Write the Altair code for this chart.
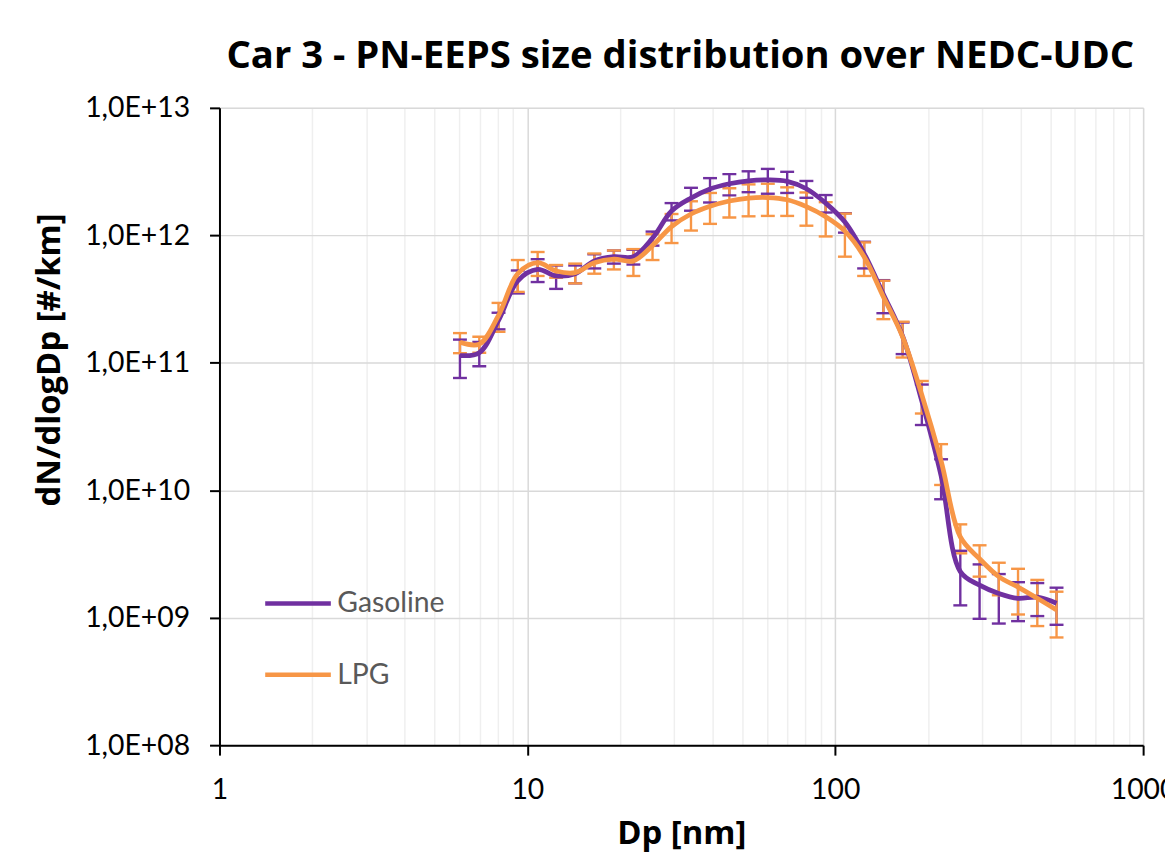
import altair as alt
import pandas as pd

# Particle diameter bins (EEPS channels, nm)
dp = [6.04, 6.98, 8.06, 9.31, 10.8, 12.4, 14.3, 16.5, 19.1, 22.1, 25.5, 29.4,
      34.0, 39.2, 45.3, 52.3, 60.4, 69.8, 80.6, 93.1, 107.5, 124.1, 143.3,
      165.5, 191.1, 220.7, 254.8, 294.3, 339.8, 392.4, 453.2, 523.3]

gasoline = [1.14e11, 1.2e11, 2.15e11, 4.4e11, 5.4e11, 4.8e11, 5.0e11, 6.3e11,
            6.8e11, 6.8e11, 9.5e11, 1.55e12, 1.96e12, 2.31e12, 2.54e12, 2.68e12,
            2.72e12, 2.65e12, 2.32e12, 1.79e12, 1.27e12, 7.2e11, 3.45e11, 1.62e11,
            5.0e10, 1.3e10, 2.3e9, 1.8e9, 1.55e9, 1.42e9, 1.45e9, 1.3e9]
gasoline_err = [0.38e11, 0.26e11, 0.32e11, 0.9e11, 1.1e11, 1.0e11, 0.8e11, 0.8e11,
                0.8e11, 0.9e11, 1.2e11, 2.4e11, 4.0e11, 5.0e11, 4.8e11, 5.0e11,
                6.0e11, 5.0e11, 3.5e11, 2.8e11, 2.2e11, 1.7e11, 1.0e11, 0.45e11,
                1.75e10, 0.45e10, 1.05e9, 0.82e9, 0.65e9, 0.48e9, 0.42e9, 0.42e9]

lpg = [1.45e11, 1.4e11, 2.35e11, 5.0e11, 6.1e11, 5.25e11, 5.1e11, 6.1e11,
       6.5e11, 6.3e11, 8.3e11, 1.17e12, 1.47e12, 1.69e12, 1.86e12, 1.96e12,
       1.98e12, 1.9e12, 1.68e12, 1.4e12, 1.08e12, 6.8e11, 3.3e11, 1.6e11,
       5.6e10, 1.7e10, 4.3e9, 2.9e9, 2.1e9, 1.74e9, 1.42e9, 1.15e9]
lpg_err = [0.26e11, 0.2e11, 0.6e11, 1.4e11, 1.3e11, 0.6e11, 0.9e11, 1.1e11,
           1.1e11, 1.5e11, 1.9e11, 3.0e11, 3.8e11, 4.6e11, 4.8e11, 5.5e11,
           5.6e11, 4.8e11, 4.9e11, 4.2e11, 4.0e11, 2.0e11, 1.1e11, 0.5e11,
           1.6e10, 0.6e10, 1.1e9, 0.8e9, 0.6e9, 0.68e9, 0.56e9, 0.45e9]

series_names = ["Gasoline", "LPG"]
series_colors = ["#7030A0", "#F79646"]

x_ticks = [m * 10 ** k for k in range(3) for m in range(1, 10)] + [1000]
y_ticks = [1e8, 1e9, 1e10, 1e11, 1e12, 1e13]

rows = []
for name, vals, errs in [("Gasoline", gasoline, gasoline_err), ("LPG", lpg, lpg_err)]:
    for d, v, e in zip(dp, vals, errs):
        rows.append({"Dp": d, "val": v, "lo": v - e, "hi": v + e, "series": name})
df = pd.DataFrame(rows)

W, H = 929, 641
FONT = "Lato"
BOLD_FONT = "Open Sans"
is_major = "datum.value==1||datum.value==10||datum.value==100||datum.value==1000"

x_axis = alt.Axis(
    values=x_ticks,
    labelExpr=f"({is_major}) ? format(datum.value, 'd') : ''",
    title="Dp [nm]",
    grid=True,
    gridColor={"condition": {"test": is_major, "value": "#d9d9d9"}, "value": "#efefef"},
    gridWidth=1.5,
    tickSize={"condition": {"test": is_major, "value": 10}, "value": 0},
    tickColor="black", tickWidth=2,
    domainColor="black", domainWidth=2,
    labelFont=FONT, labelFontSize=28.5, labelColor="black",
    labelPadding=21, labelFlush=False, labelOverlap=False,
    titleFont=BOLD_FONT, titleFontSize=33, titleFontWeight="bold", titleColor="black",
    titleX=W / 2, titleY=99, titleBaseline="alphabetic",
)

y_axis = alt.Axis(
    values=y_ticks,
    labelExpr="'1,0E+' + format(round(log(datum.value)/LN10), '02d')",
    title="dN/dlogDp [#/km]",
    grid=True, gridColor="#d9d9d9", gridWidth=1.5,
    tickSize=10, tickColor="black", tickWidth=2,
    domainColor="black", domainWidth=2,
    labelFont=FONT, labelFontSize=28.5, labelColor="black",
    labelPadding=20, labelFlush=False, labelOverlap=False,
    titleFont=BOLD_FONT, titleFontSize=33, titleFontWeight="bold", titleColor="black",
    titleAngle=270, titleX=-161, titleY=253, titleBaseline="alphabetic", titleAlign="center",
)

x_scale = alt.Scale(type="log", domain=[1, 1000], nice=False)
y_scale = alt.Scale(type="log", domain=[1e8, 1e13], nice=False)
color_scale = alt.Scale(domain=series_names, range=series_colors)

legend = alt.Legend(
    orient="none", legendX=43.5, legendY=463, title=None,
    symbolType="stroke", symbolSize=4356, symbolStrokeWidth=4.5, symbolOpacity=1,
    labelFont=FONT, labelFontSize=28.5, labelColor="#595959",
    labelOffset=4, rowPadding=21.6, padding=0,
)
color = alt.Color("series:N", scale=color_scale, legend=legend)

base = alt.Chart(df)

rules = base.mark_rule(strokeWidth=2.4, opacity=1).encode(
    x=alt.X("Dp:Q", scale=x_scale, axis=x_axis),
    y=alt.Y("lo:Q", scale=y_scale, axis=y_axis),
    y2="hi:Q",
    color=color,
)
caps_lo = base.mark_tick(orient="horizontal", size=14, thickness=2.4, opacity=1).encode(
    x=alt.X("Dp:Q", scale=x_scale),
    y=alt.Y("lo:Q", scale=y_scale),
    color=color,
)
caps_hi = base.mark_tick(orient="horizontal", size=14, thickness=2.4, opacity=1).encode(
    x=alt.X("Dp:Q", scale=x_scale),
    y=alt.Y("hi:Q", scale=y_scale),
    color=color,
)
lines = base.mark_line(interpolate="catmull-rom", strokeWidth=4.8, opacity=1).encode(
    x=alt.X("Dp:Q", scale=x_scale),
    y=alt.Y("val:Q", scale=y_scale),
    color=color,
)

chart = alt.layer(rules, caps_lo, caps_hi, lines).properties(
    width=W, height=H,
    title=alt.TitleParams(
        "Car 3 - PN-EEPS size distribution over NEDC-UDC",
        font=BOLD_FONT, fontSize=38.5, fontWeight="bold", color="black",
        anchor="middle", baseline="alphabetic", offset=24, dy=36, dx=-1,
    ),
    autosize=alt.AutoSizeParams(type="none"),
    padding={"left": 212.7, "top": 98, "right": 22, "bottom": 106},
).configure_view(stroke="black", strokeWidth=2).configure(background="white")

chart.save("out.html", embed_options={"renderer": "svg", "actions": False})
